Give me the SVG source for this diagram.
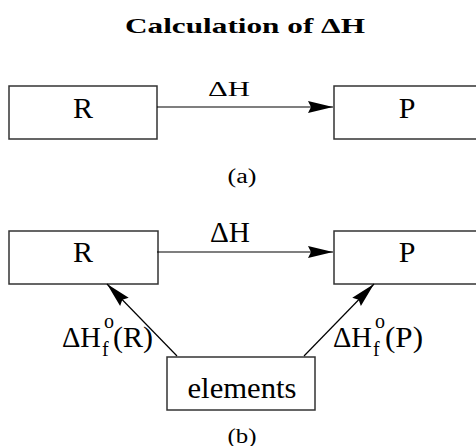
<svg xmlns="http://www.w3.org/2000/svg" width="476" height="446" viewBox="0 0 476 446">
<defs>
<style>
.box{fill:#fff;stroke:#333;stroke-width:1.5}
.edge{stroke:#000;stroke-width:1.2;fill:none}
.t{font-family:'Liberation Serif','DejaVu Serif','Times New Roman',serif;fill:#000}
.big{font-size:30px}
.mid{font-size:20px}
.title{font-family:'Liberation Serif','DejaVu Serif','Times New Roman',serif;font-weight:bold;font-size:22px}
</style>
<marker id="ah" markerWidth="26" markerHeight="14" refX="25" refY="7" orient="auto" markerUnits="userSpaceOnUse">
<path d="M0,1 L25,7 L0,13 L3,7 Z" fill="#000"/>
</marker>
</defs>
<rect width="476" height="446" fill="#fff"/>
<text class="title" x="245" y="33" text-anchor="middle" textLength="240" lengthAdjust="spacingAndGlyphs">Calculation of ΔH</text>

<g id="a-R"><rect class="box" x="9" y="86" width="148" height="53"/><text class="t big" x="83" y="118" text-anchor="middle">R</text></g>
<g id="a-P"><rect class="box" x="334" y="86" width="150" height="53"/><text class="t big" x="407" y="118" text-anchor="middle">P</text></g>
<g id="a-edges">
<line class="edge" x1="157" y1="107" x2="333" y2="107" marker-end="url(#ah)"/>
<text class="t big" transform="translate(229,96) scale(1,0.72)" text-anchor="middle" textLength="42" lengthAdjust="spacingAndGlyphs">ΔH</text>
</g>
<text class="t mid" x="242" y="183" text-anchor="middle" textLength="29" lengthAdjust="spacingAndGlyphs">(a)</text>

<g id="b-R"><rect class="box" x="9" y="231" width="149" height="53"/><text class="t big" x="83" y="262" text-anchor="middle">R</text></g>
<g id="b-P"><rect class="box" x="334" y="231" width="150" height="53"/><text class="t big" x="407" y="262" text-anchor="middle">P</text></g>
<g id="b-elements"><rect class="box" x="167" y="357" width="148" height="53"/><text class="t big" x="242" y="398" text-anchor="middle" textLength="109" lengthAdjust="spacingAndGlyphs">elements</text></g>
<g id="b-edges">
<line class="edge" x1="157" y1="252" x2="333" y2="252" marker-end="url(#ah)"/>
<text class="t big" x="230" y="242" text-anchor="middle" textLength="40" lengthAdjust="spacingAndGlyphs">ΔH</text>
<line class="edge" x1="177" y1="356" x2="107" y2="284" marker-end="url(#ah)"/>
<line class="edge" x1="304" y1="356" x2="374" y2="284" marker-end="url(#ah)"/>
<text class="t big" x="62" y="347" textLength="39" lengthAdjust="spacingAndGlyphs">ΔH</text>
<text class="t mid" x="104" y="328">o</text>
<text class="t mid" x="102" y="356">f</text>
<text class="t big" x="113" y="347" textLength="40" lengthAdjust="spacingAndGlyphs">(R)</text>
<text class="t big" x="333" y="347" textLength="39" lengthAdjust="spacingAndGlyphs">ΔH</text>
<text class="t mid" x="375" y="328">o</text>
<text class="t mid" x="373" y="356">f</text>
<text class="t big" x="385" y="347" textLength="38" lengthAdjust="spacingAndGlyphs">(P)</text>
</g>
<text class="t mid" x="242" y="443" text-anchor="middle" textLength="29" lengthAdjust="spacingAndGlyphs">(b)</text>
</svg>
